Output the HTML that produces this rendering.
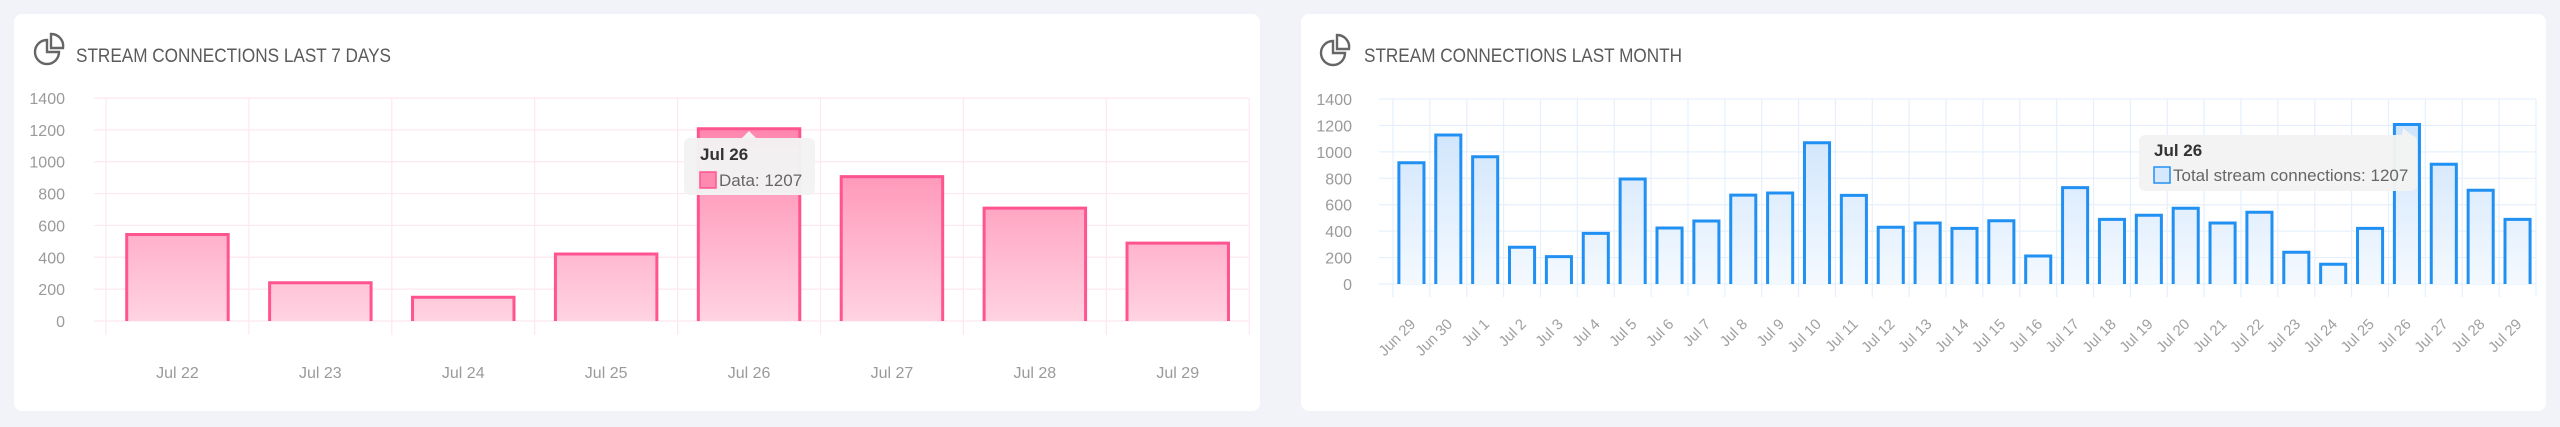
<!DOCTYPE html>
<html><head><meta charset="utf-8"><style>
body{margin:0;width:2560px;height:427px;background:#f2f3f8;overflow:hidden;font-family:"Liberation Sans",sans-serif}
svg{position:absolute;left:0;top:0}
</style></head><body>
<svg id="s" width="2560" height="427" xmlns="http://www.w3.org/2000/svg">
<defs>
<linearGradient id="pg" x1="0" y1="98" x2="0" y2="321" gradientUnits="userSpaceOnUse"><stop offset="0" stop-color="#ff7aa6"/><stop offset="1" stop-color="#ffd3e1"/></linearGradient>
<linearGradient id="bg" x1="0" y1="99" x2="0" y2="284" gradientUnits="userSpaceOnUse"><stop offset="0" stop-color="#c9e1fb"/><stop offset="1" stop-color="#f4f9ff"/></linearGradient>
</defs>
<rect x="14" y="14" width="1246" height="397" rx="8" fill="#fff"/>
<rect x="1301" y="14" width="1245" height="397" rx="8" fill="#fff"/>
<g id="c1"></g>
<g id="c2"></g>
</svg>
<script>
const weekCats=["Jul 22","Jul 23","Jul 24","Jul 25","Jul 26","Jul 27","Jul 28","Jul 29"];
const weekVals=[543,240,149,421,1207,906,709,489];
const monthCats=["Jun 29","Jun 30","Jul 1","Jul 2","Jul 3","Jul 4","Jul 5","Jul 6","Jul 7","Jul 8","Jul 9","Jul 10","Jul 11","Jul 12","Jul 13","Jul 14","Jul 15","Jul 16","Jul 17","Jul 18","Jul 19","Jul 20","Jul 21","Jul 22","Jul 23","Jul 24","Jul 25","Jul 26","Jul 27","Jul 28","Jul 29"];
const monthVals=[918,1128,963,278,207,383,795,424,477,673,689,1069,671,429,462,421,479,212,729,489,520,573,462,543,240,149,421,1207,906,709,489];
const yTicks=[0,200,400,600,800,1000,1200,1400];
const NS="http://www.w3.org/2000/svg";
function mk(p,t,a,txt){const e=document.createElementNS(NS,t);for(const k in a)e.setAttribute(k,a[k]);if(txt!=null)e.textContent=txt;p.appendChild(e);return e;}
function icon(p,x,y){const g=mk(p,'g',{fill:'none',stroke:'#666','stroke-width':2.4});


mk(g,'path',{d:`M${x+12} ${y+6} A12 12 0 1 0 ${x+24} ${y+18} L${x+12} ${y+18} Z`});
mk(g,'path',{d:`M${x+16} ${y} L${x+16} ${y+14} L${x+28} ${y+14} A12 12 0 0 0 ${x+16} ${y} Z`});}
function chart(g,o){
 const {cats,vals,x0,band,yTop,yBot,gridBot,gridL,stroke,fill,grid,rot,labelY,bw}=o;
 const yS=v=>yBot-(v/1400)*(yBot-yTop);
 const xEnd=x0+band*cats.length;
 yTicks.forEach(t=>{const l=mk(g,'line',{x1:gridL,x2:xEnd,y1:yS(t),y2:yS(t),stroke:grid,'stroke-width':1.2});
  
  
  const tx=mk(g,'text',{x:o.yLabR,y:yS(t)+6,'text-anchor':'end','font-size':16,fill:'#9a9a9a'},t);
  
  });
 for(let i=0;i<=cats.length;i++){const l=mk(g,'line',{x1:x0+i*band,x2:x0+i*band,y1:yTop,y2:gridBot,stroke:grid,'stroke-width':1.2});
  
  }
 cats.forEach((c,i)=>{const cx=x0+band*(i+0.5),w=band*bw,y=yS(vals[i]);
  const b=mk(g,'path',{d:`M${cx-w/2} ${yBot} L${cx-w/2} ${y} L${cx+w/2} ${y} L${cx+w/2} ${yBot}`,fill:fill,stroke:stroke,'stroke-width':3});
  
  
  let t;
  if(rot){t=mk(g,'text',{x:cx+5,y:labelY,'text-anchor':'end','font-size':15,fill:'#a0a0a0',transform:`rotate(-45 ${cx+5} ${labelY})`},c);}
  else{t=mk(g,'text',{x:cx,y:labelY,'text-anchor':'middle','font-size':16,fill:'#9a9a9a'},c);}
  
  });
}
const c1=document.getElementById('c1'),c2=document.getElementById('c2');
icon(c1,35,34);
const t1=mk(c1,'text',{x:76,y:62,'font-size':19,fill:'#5a5a5a',textLength:315,lengthAdjust:'spacingAndGlyphs'},'STREAM CONNECTIONS LAST 7 DAYS');


chart(c1,{cats:weekCats,vals:weekVals,x0:106,band:142.9,yTop:98,yBot:321,gridBot:335,gridL:94,stroke:'#ff5490',fill:'url(#pg)',grid:'#fde8ef',rot:false,labelY:378,bw:0.71,yLabR:65});
icon(c2,1321,35);
const t2=mk(c2,'text',{x:1364,y:62,'font-size':19,fill:'#5a5a5a',textLength:318,lengthAdjust:'spacingAndGlyphs'},'STREAM CONNECTIONS LAST MONTH');


chart(c2,{cats:monthCats,vals:monthVals,x0:1393,band:36.87,yTop:99,yBot:284,gridBot:297,gridL:1379,stroke:'#2190f3',fill:'url(#bg)',grid:'#e6f0fc',rot:true,labelY:325,bw:0.68,yLabR:1352});
const tp1=mk(c1,'g',{});


mk(tp1,'rect',{x:684,y:138,width:131,height:57,rx:6,fill:'#f3f3f3','fill-opacity':0.97});
mk(tp1,'path',{d:'M742 138 L749 131 L756 138 Z',fill:'#f3f3f3'});
mk(tp1,'text',{x:700,y:160,'font-size':17,'font-weight':'bold',fill:'#333'},'Jul 26');
mk(tp1,'rect',{x:700,y:172,width:16,height:16,fill:'#ff8ab0',stroke:'#ff5490','stroke-width':1.5});
mk(tp1,'text',{x:719,y:186,'font-size':17,fill:'#666'},'Data: 1207');
const tp2=mk(c2,'g',{});


mk(tp2,'rect',{x:2139,y:135,width:278,height:56,rx:6,fill:'#f3f3f3','fill-opacity':0.97});
mk(tp2,'path',{d:'M2402 135 L2403 128 L2417 140 Z',fill:'#f3f3f3'});
mk(tp2,'text',{x:2154,y:156,'font-size':17,'font-weight':'bold',fill:'#333'},'Jul 26');
mk(tp2,'rect',{x:2154,y:167,width:16,height:16,fill:'#d5e8fc',stroke:'#2190f3','stroke-width':1.5});
mk(tp2,'text',{x:2173,y:181,'font-size':17,fill:'#666'},'Total stream connections: 1207');
</script>
</body></html>
